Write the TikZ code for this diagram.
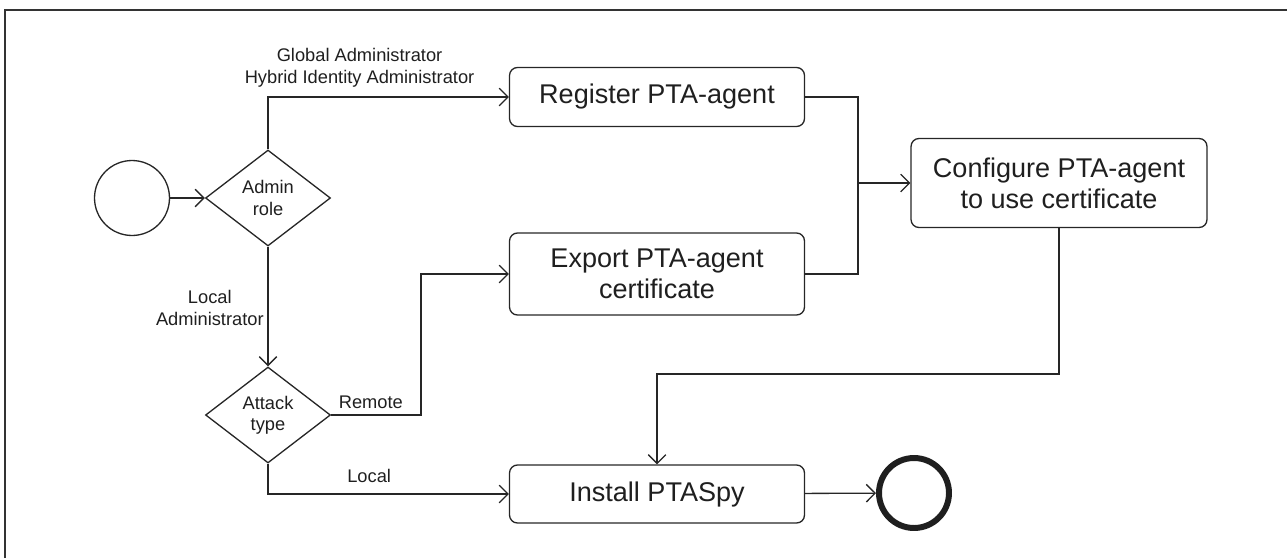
\documentclass[tikz,border=0pt]{standalone}
\usepackage{fontspec}
\setmainfont{Liberation Sans}
\usepackage{tikz}
\usetikzlibrary{shapes.geometric,arrows.meta}

\begin{document}
\begin{tikzpicture}[x=0.02cm,y=-0.02cm,
  every node/.style={text=black!88},
  line/.style={draw=black!85,line width=0.75pt},
  arr/.style={line,-{Straight Barb[length=5pt,width=10pt]}},
  task/.style={line,rounded corners=4.5pt,align=center,inner sep=0pt,
    minimum width=5.9cm,font=\fontsize{15.4}{17.5}\selectfont},
  choice/.style={line,diamond,aspect=1.3,inner sep=0pt,align=center,
    minimum width=2.5cm,minimum height=1.92cm,font=\fontsize{10.4}{12}\selectfont},
  lbl/.style={align=center,inner sep=0pt,font=\fontsize{10.4}{12.5}\selectfont}]
\useasboundingbox (0,0) rectangle (1287,558);
\draw[draw=black!80,line width=1.1pt] (5,558) -- (5,10) -- (1287,10);

\node[line,circle,minimum size=1.5cm,inner sep=0pt] (start) at (132,198) {};
\node[choice] (admin) at (268,198) {Admin\\role};
\node[choice] (attack) at (268,415) {Attack\\type};
\node[task,minimum height=1.18cm] (register) at (657,97) {Register PTA-agent};
\node[task,minimum height=1.64cm] (export) at (657,274) {Export PTA-agent\\certificate};
\node[task,minimum width=5.92cm,minimum height=1.78cm] (configure) at (1059,183) {Configure PTA-agent\\to use certificate};
\node[task,minimum height=1.16cm] (install) at (657,494) {Install PTASpy};
\node[draw=black!88,line width=3.4pt,circle,minimum size=1.4cm,inner sep=0pt] (end) at (914,493) {};
\coordinate (join) at (858,183);

\draw[arr] (start) -- (admin);
\draw[arr] (admin.north) |- (register.west)
  node[lbl,pos=0.69,anchor=south,yshift=5pt] (glbl) {Global Administrator\\Hybrid Identity Administrator};
\draw[arr] (admin.south) -- (attack.north);
\node[lbl,anchor=east] (llbl) at (264,308) {Local\\Administrator};
\draw[arr] (attack.east) -- ++(90,0) node[lbl,midway,anchor=south,yshift=3pt,xshift=-3pt] (rlbl) {Remote} |- (export.west);
\draw[arr] (attack.south) |- (install.west) node[lbl,pos=0.71,anchor=south,yshift=6pt] (lolbl) {Local};
\draw[line] (register.east) -| (join);
\draw[line] (export.east) -| (join);
\draw[arr] (join) -- (configure.west);
\draw[arr] (configure.south) -- ++(0,146) -| (install.north);
\draw[arr] (install) -- (end);
\end{tikzpicture}
\end{document}
